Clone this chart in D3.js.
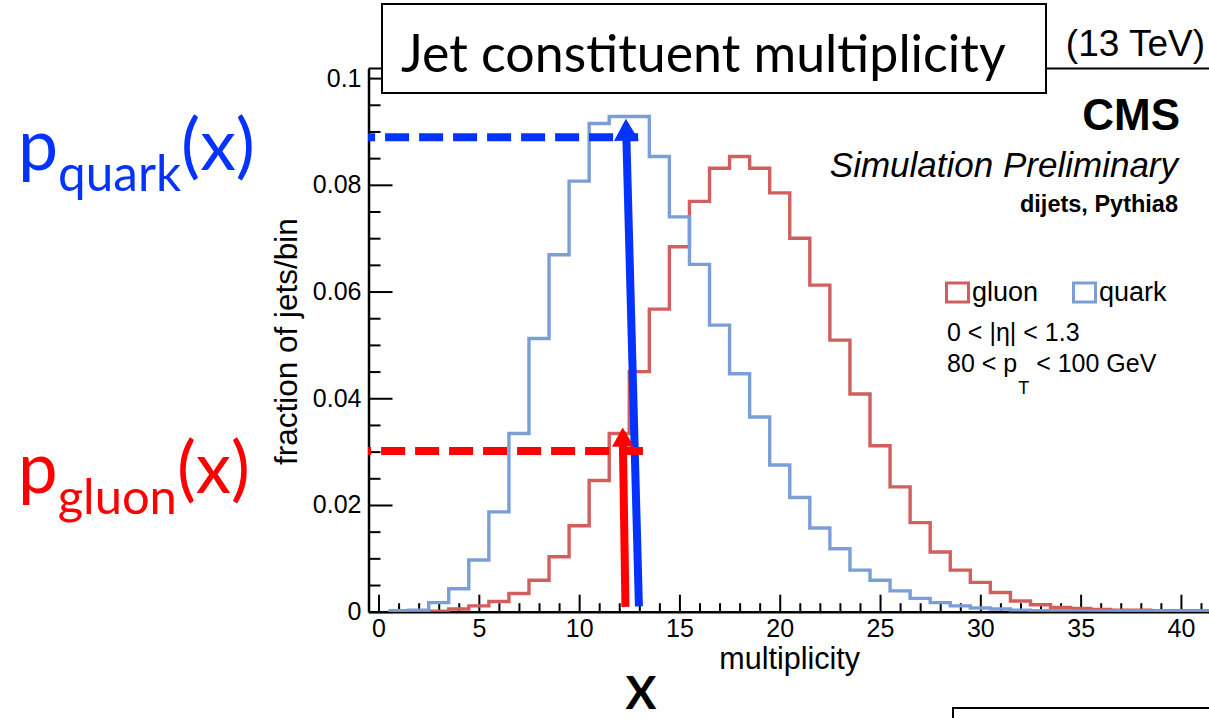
<!DOCTYPE html>
<html>
<head>
<meta charset="utf-8">
<script src="https://cdn.jsdelivr.net/npm/d3@7/dist/d3.min.js"></script>
<style>
  html, body { margin: 0; padding: 0; background: #fff; }
  svg { display: block; }
</style>
</head>
<body>
<svg id="chart" width="1209" height="718"></svg>
<script>
// Bin centres of the multiplicity histograms (unit-width bins)
const binCenters = [1,2,3,4,5,6,7,8,9,10,11,12,13,14,15,16,17,18,19,20,21,
                    22,23,24,25,26,27,28,29,30,31,32,33,34,35,36,37,38,39,40,41,42];

// Fraction of jets per bin, quark-initiated jets
const quarkValues = [0.0002,0.0003,0.0017,0.0043,0.0097,0.0187,0.0334,0.0512,0.0669,0.0807,
                     0.0915,0.0928,0.0928,0.0853,0.0740,0.0651,0.0537,0.0446,0.0365,0.0275,
                     0.0214,0.0157,0.0118,0.0078,0.0059,0.0039,0.0025,0.0017,0.0011,0.0007,
                     0.0005,0.0003,0.0002,0.0002,0.0001,0.0001,0.0001,0.0001,0.0001,0.0001,0.0001,0.0001];

// Fraction of jets per bin, gluon-initiated jets
const gluonValues = [0.0000,0.0000,0.0001,0.0005,0.0011,0.0019,0.0034,0.0059,0.0103,0.0161,
                     0.0246,0.0334,0.0450,0.0567,0.0684,0.0769,0.0831,0.0853,0.0831,0.0785,
                     0.0700,0.0612,0.0509,0.0408,0.0311,0.0234,0.0167,0.0112,0.0078,0.0055,
                     0.0036,0.0020,0.0013,0.0008,0.0006,0.0004,0.0003,0.0003,0.0002,0.0002,0.0002,0.0001];

// Axis ticks
const yMajorTicks = [0, 0.02, 0.04, 0.06, 0.08, 0.1];
const yTickLabels = ["0", "0.02", "0.04", "0.06", "0.08", "0.1"];
const xMajorTicks = [0, 5, 10, 15, 20, 25, 30, 35, 40];
const xTickLabels = ["0", "5", "10", "15", "20", "25", "30", "35", "40"];

// Read-off annotation at x ~ 12.5: probability levels and the arrows pointing at them
const quarkLevel = 0.0889;
const gluonLevel = 0.0301;
const quarkArrow = [[12.98, 0.0010], [12.33, 0.0924]];
const gluonArrow = [[12.31, 0.0009], [12.17, 0.0345]];
const quarkDash = [-0.52, 12.94];
const gluonDash = [-0.52, 13.18];

const legendLabels = ["gluon", "quark"];

const svg = d3.select("#chart");
const HELV = "'Liberation Sans', Arial, Helvetica, sans-serif";
const CAL = "Lato, 'Open Sans', sans-serif";
const redHist = "#d15f5f", blueHist = "#7b9ed6";
const annBlue = "#0433ff", annRed = "#fe0000";

// Scales
const yMax = 0.1018;
const x = d3.scaleLinear().domain([-0.5, 41.5]).range([368.5, 368.5 + 42 * 20.06]);
const y = d3.scaleLinear().domain([0, yMax]).range([611.7, 68.5]);

// Frame top line
svg.append("line")
  .attr("x1", x(-0.5)).attr("x2", x(41.5))
  .attr("y1", y(yMax)).attr("y2", y(yMax))
  .attr("stroke", "#000").attr("stroke-width", 2);

// Y axis: major and minor ticks pointing inward
const yMinor = d3.range(0, 0.1001, 0.005).filter(v => Math.abs(Math.round(v / 0.02) * 0.02 - v) > 1e-6);
const yAxisG = svg.append("g").attr("transform", `translate(${x(-0.5)},0)`);
yAxisG.call(d3.axisLeft(y).tickValues(yMajorTicks).tickSize(-24).tickSizeOuter(0).tickPadding(7)
  .tickFormat((d, i) => yTickLabels[i]));
yAxisG.append("g").call(d3.axisLeft(y).tickValues(yMinor).tickSize(-12).tickSizeOuter(0).tickFormat(""))
  .select(".domain").remove();

// X axis: major and minor ticks pointing inward
const xMinor = d3.range(0, 42, 1).filter(v => v % 5 !== 0);
const xAxisG = svg.append("g").attr("transform", `translate(0,${y(0)})`);
xAxisG.call(d3.axisBottom(x).tickValues(xMajorTicks).tickSize(-17).tickSizeOuter(0).tickPadding(8)
  .tickFormat((d, i) => xTickLabels[i]));
xAxisG.append("g").call(d3.axisBottom(x).tickValues(xMinor).tickSize(-8.5).tickSizeOuter(0).tickFormat(""))
  .select(".domain").remove();

svg.selectAll(".domain").attr("stroke", "#000").attr("stroke-width", 2.5);
svg.selectAll(".tick line").attr("stroke", "#000").attr("stroke-width", 2);
svg.selectAll(".tick text").attr("font-family", HELV).attr("font-size", 25).attr("fill", "#000");

// Axis titles
svg.append("text").attr("x", 860).attr("y", 669).attr("text-anchor", "end")
  .attr("font-family", HELV).attr("font-size", 30.5).text("multiplicity");
svg.append("text").attr("transform", "translate(297,465) rotate(-90)")
  .attr("font-family", HELV).attr("font-size", 31.5).text("fraction of jets/bin");

// Histograms (step outlines), clipped to the frame
svg.append("clipPath").attr("id", "frame").append("rect")
  .attr("x", x(-0.5)).attr("y", y(yMax)).attr("width", x(41.5) - x(-0.5)).attr("height", y(0) - y(yMax));

function stepPoints(values) {
  const pts = binCenters.map((c, i) => [c - 0.5, values[i]]);
  pts.push([binCenters[binCenters.length - 1] + 0.5, values[values.length - 1]]);
  return pts;
}
const stepLine = d3.line().x(d => x(d[0])).y(d => y(d[1])).curve(d3.curveStepAfter);
const histG = svg.append("g").attr("clip-path", "url(#frame)");
histG.append("path").attr("d", stepLine(stepPoints(gluonValues)))
  .attr("fill", "none").attr("stroke", redHist).attr("stroke-width", 3.4);
histG.append("path").attr("d", stepLine(stepPoints(quarkValues)))
  .attr("fill", "none").attr("stroke", blueHist).attr("stroke-width", 3.4);

// Dashed read-off levels and arrows
function dashed(span, level, color, offset) {
  svg.append("line")
    .attr("x1", x(span[0])).attr("x2", x(span[1]))
    .attr("y1", y(level)).attr("y2", y(level))
    .attr("stroke", color).attr("stroke-width", 8)
    .attr("stroke-dasharray", "24 10").attr("stroke-dashoffset", offset);
}
function arrow(pts, color, headLen, headHalf, width) {
  const x0 = x(pts[0][0]), y0 = y(pts[0][1]), x1 = x(pts[1][0]), y1 = y(pts[1][1]);
  const dx = x1 - x0, dy = y1 - y0, L = Math.hypot(dx, dy);
  const ux = dx / L, uy = dy / L, px = -uy, py = ux;
  const bx = x1 - ux * headLen, by = y1 - uy * headLen;
  svg.append("line").attr("x1", x0).attr("y1", y0).attr("x2", bx + ux * 2).attr("y2", by + uy * 2)
    .attr("stroke", color).attr("stroke-width", width);
  svg.append("polygon")
    .attr("points", [[x1, y1], [bx + px * headHalf, by + py * headHalf], [bx - px * headHalf, by - py * headHalf]]
      .map(p => p.join(",")).join(" "))
    .attr("fill", color);
}
dashed(quarkDash, quarkLevel, annBlue, 17);
arrow(quarkArrow, annBlue, 22, 12.5, 8);
dashed(gluonDash, gluonLevel, annRed, 21);
arrow(gluonArrow, annRed, 19, 11, 8);

// Title box
svg.append("rect").attr("x", 382).attr("y", 4).attr("width", 664).attr("height", 89)
  .attr("fill", "#fff").attr("stroke", "#000").attr("stroke-width", 2);

// Fit a group of text to a target width by scaling it about its anchor point
function placeFitted(xp, yp, targetW, build) {
  const g = svg.append("g");
  build(g);
  const w = g.node().getBBox().width;
  const k = w > 0 ? targetW / w : 1;
  g.attr("transform", `translate(${xp},${yp}) scale(${k})`);
  return g;
}

placeFitted(401, 72, 605, g => g.append("text").attr("font-family", CAL).attr("font-size", 58)
  .attr("fill", "#000").text("Jet constituent multiplicity"));

// Energy label and experiment texts
svg.append("text").attr("x", 1205).attr("y", 56).attr("text-anchor", "end")
  .attr("font-family", HELV).attr("font-size", 37).text("(13 TeV)");
svg.append("text").attr("x", 1180).attr("y", 130).attr("text-anchor", "end")
  .attr("font-family", HELV).attr("font-weight", "bold").attr("font-size", 44).text("CMS");
svg.append("text").attr("x", 1178).attr("y", 177).attr("text-anchor", "end")
  .attr("font-family", HELV).attr("font-style", "italic").attr("font-size", 35).text("Simulation Preliminary");
svg.append("text").attr("x", 1178).attr("y", 212).attr("text-anchor", "end")
  .attr("font-family", HELV).attr("font-weight", "bold").attr("font-size", 23.5).text("dijets, Pythia8");

// Legend
const legendColors = [redHist, blueHist];
const legendX = [945, 1072];
legendLabels.forEach((lab, i) => {
  svg.append("rect").attr("x", legendX[i] + 1.5).attr("y", 283).attr("width", 22).attr("height", 19)
    .attr("fill", "none").attr("stroke", legendColors[i]).attr("stroke-width", 3);
  svg.append("text").attr("x", legendX[i] + 27).attr("y", 301)
    .attr("font-family", HELV).attr("font-size", 27).text(lab);
});
svg.append("text").attr("x", 947).attr("y", 341).attr("font-family", HELV).attr("font-size", 25)
  .text("0 < |η| < 1.3");
const ptText = svg.append("text").attr("x", 947).attr("y", 372).attr("font-family", HELV).attr("font-size", 25);
ptText.append("tspan").text("80 < p");
ptText.append("tspan").attr("dy", 22).attr("dx", 1).attr("font-size", 18).text("T");
ptText.append("tspan").attr("dy", -22).text(" < 100 GeV");

// Probability labels on the left
placeFitted(18, 170, 237, g => {
  const t = g.append("text").attr("font-family", CAL).attr("font-size", 68).attr("fill", annBlue);
  t.append("tspan").text("p");
  t.append("tspan").attr("dy", 20).attr("font-size", 47).text("quark");
  t.append("tspan").attr("dy", -20).text("(x)");
});
placeFitted(18, 493, 232, g => {
  const t = g.append("text").attr("font-family", CAL).attr("font-size", 68).attr("fill", annRed);
  t.append("tspan").text("p");
  t.append("tspan").attr("dy", 20).attr("font-size", 47).text("gluon");
  t.append("tspan").attr("dy", -20).text("(x)");
});

// Variable label below the axis
svg.append("text").attr("x", 641).attr("y", 709).attr("text-anchor", "middle")
  .attr("font-family", CAL).attr("font-weight", "bold").attr("font-size", 46).text("X");

// Corner of the box at the bottom right
svg.append("rect").attr("x", 953).attr("y", 708).attr("width", 300).attr("height", 60)
  .attr("fill", "#fff").attr("stroke", "#000").attr("stroke-width", 2);
</script>
</body>
</html>
